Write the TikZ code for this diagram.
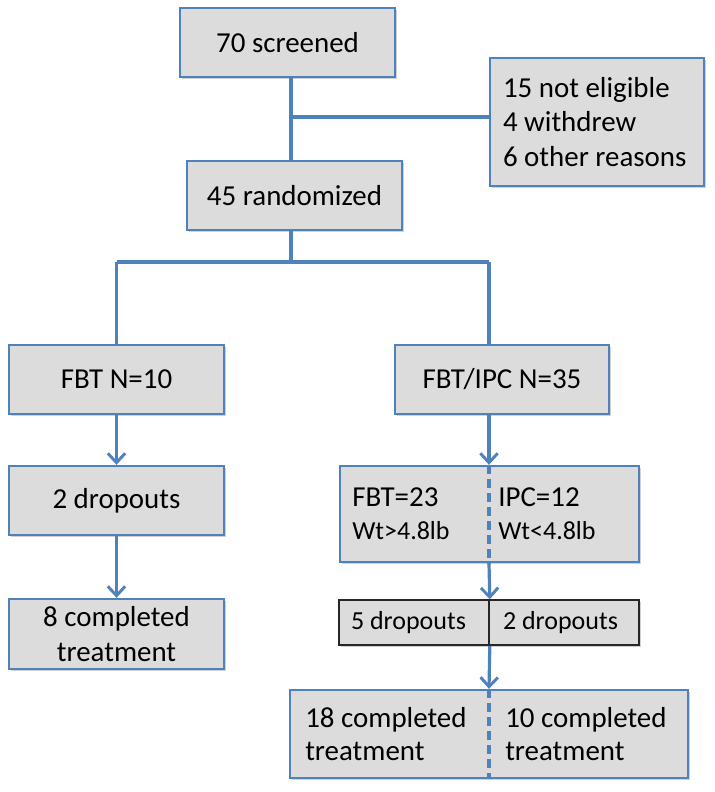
\documentclass[tikz,border=0pt]{standalone}
\usepackage{fontspec}
\setmainfont{Carlito}
\usepackage{xcolor}
\usepackage{tikz}
\usetikzlibrary{arrows.meta,shadows}

\definecolor{flowblue}{RGB}{79,129,189}
\definecolor{flowgray}{RGB}{220,220,220}

\tikzset{
  flowbox/.style={draw=flowblue, fill=flowgray, line width=1.8pt, inner sep=0pt, align=center,
    drop shadow={shadow xshift=1.2pt, shadow yshift=-1.2pt, opacity=0.3, fill=black!60}},
  pairbox/.style={flowbox, draw=black!85, line width=1.2pt},
  flowline/.style={draw=flowblue, line width=2.4pt},
  flowarrow/.style={flowline, -{Straight Barb[length=7pt,width=13pt,line width=2.2pt]}},
  midline/.style={draw=flowblue, line width=2.4pt, dash pattern=on 7pt off 3.5pt},
  bigfont/.style={font=\fontsize{21.7}{26}\selectfont},
  pairfont/.style={font=\fontsize{21.7}{24.75}\selectfont},
  smallfont/.style={font=\fontsize{19.5}{24.5}\selectfont}
}

\begin{document}
\begin{tikzpicture}[x=0.75pt,y=0.75pt,yscale=-1,xscale=1]
\useasboundingbox (0,0) rectangle (714,792);

%Shape: Rectangle [screened]
\node [flowbox, bigfont, minimum width=161.25pt, minimum height=51.75pt] (screened) at (287.5,42.5) {70 screened};
%Shape: Rectangle [excluded]
\node [flowbox, bigfont, align=flush left, text width=141pt, inner xsep=9.75pt, minimum height=96pt] (excluded) at (597,122) {15 not eligible\\4 withdrew\\6 other reasons};
%Shape: Rectangle [randomized]
\node [flowbox, bigfont, minimum width=161.25pt, minimum height=51.75pt] (randomized) at (294.5,195.5) {45 randomized};

%Shape: Rectangle [fbt]
\node [flowbox, bigfont, minimum width=161.25pt, minimum height=51.75pt] (fbt) at (116.5,379.5) {FBT N=10};
%Shape: Rectangle [ipc]
\node [flowbox, bigfont, minimum width=160.5pt, minimum height=51.75pt] (ipc) at (502,379.5) {FBT/IPC N=35};

%Shape: Rectangle [dropfbt]
\node [flowbox, bigfont, minimum width=161.25pt, minimum height=51.75pt] (dropfbt) at (116.5,500.5) {2 dropouts};
%Shape: Rectangle [donefbt]
\node [flowbox, bigfont, minimum width=161.25pt, minimum height=52.5pt] (donefbt) at (116.5,634) {8 completed\\treatment};

%Shape: Rectangle [groups]
\node [flowbox, minimum width=224.25pt, minimum height=72pt] (groups) at (489.5,514) {};
% Text Node
\node [pairfont, anchor=west, align=flush left, inner sep=0.75pt] (grpfbt) at (351,514) {FBT=23\\{\fontsize{19.5}{24}\selectfont Wt>4.8lb}};
% Text Node
\node [pairfont, anchor=west, align=flush left, inner sep=0.75pt] (grpipc) at (497,514) {IPC=12\\{\fontsize{19.5}{24}\selectfont Wt<4.8lb}};

%Shape: Rectangle [dropouts pair]
\node [pairbox, smallfont, align=flush left, text width=94.5pt, inner xsep=9pt, minimum height=33.75pt] (dropfbtg) at (414,622.5) {5 dropouts};
\node [pairbox, smallfont, align=flush left, text width=91.5pt, inner xsep=10.5pt, minimum height=33.75pt] (dropipcg) at (564,622.5) {2 dropouts};

%Shape: Rectangle [done]
\node [flowbox, minimum width=298.5pt, minimum height=66pt] (done) at (489,734) {};
% Text Node
\node [pairfont, anchor=west, align=flush left, inner sep=0.75pt] (donefbtg) at (304,734) {18 completed\\treatment};
% Text Node
\node [pairfont, anchor=west, align=flush left, inner sep=0.75pt] (doneipcg) at (504,734) {10 completed\\treatment};

% Connectors
\coordinate (trunk) at (291,117);
\coordinate (fork) at (291,262);
\coordinate (armR) at (489,262);
\draw [flowline] (screened.south -| trunk) -- (randomized.north -| trunk);
\draw [flowline] (trunk) -- (trunk -| excluded.west);
\draw [flowline] (randomized.south -| fork) -- (fork);
\draw [flowline] (fbt.north |- fork) -- (armR);
\draw [flowline] (fbt.north |- fork) -- (fbt.north);
\draw [flowline] (armR) -- (armR |- ipc.north);

\draw [flowarrow] (fbt.south) -- (dropfbt.north);
\draw [flowarrow] (dropfbt.south) -- (donefbt.north);
\draw [flowarrow] (armR |- ipc.south) -- (armR |- groups.north);
\draw [flowarrow] (armR |- groups.south) -- (dropfbtg.north east);
\draw [flowarrow] (dropfbtg.south east) -- (armR |- done.north);

% Dashed dividers
\draw [midline] (armR |- groups.north) -- (armR |- groups.south);
\draw [midline] (armR |- done.north) -- (armR |- done.south);

\end{tikzpicture}
\end{document}
